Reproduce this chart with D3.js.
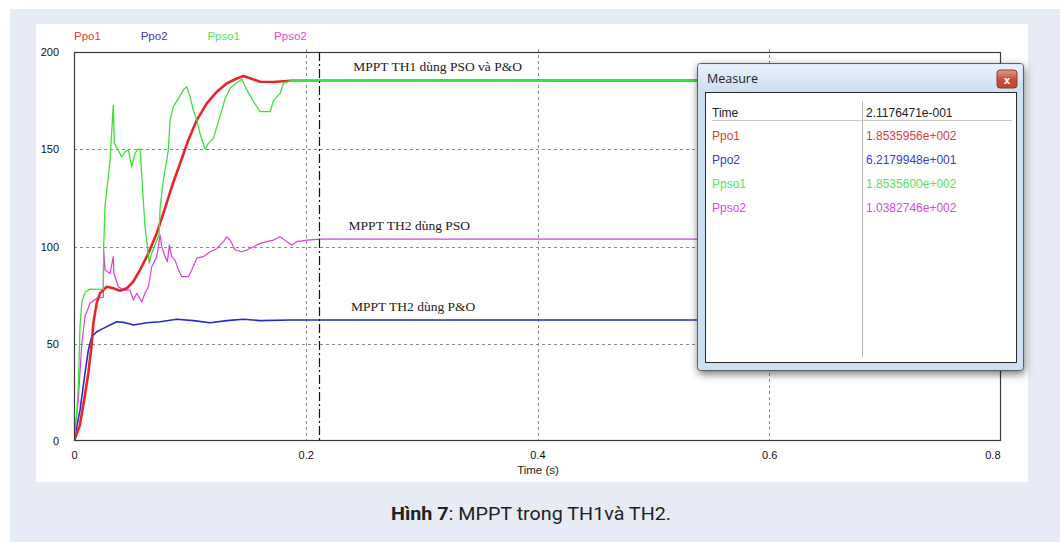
<!DOCTYPE html>
<html>
<head>
<meta charset="utf-8">
<script src="https://cdn.jsdelivr.net/npm/d3@7"></script>
<style>
  body { margin: 0; background: #fff; }
  svg { display: block; }
</style>
</head>
<body>
<div id="chart"></div>
<script>
// values: [time (s), power (W)]
var ppo1 = [[0, 0], [0.005, 8], [0.009, 22], [0.0124, 35], [0.0153, 50], [0.0167, 60.6], [0.0196, 71],
  [0.0225, 76], [0.0282, 79.3], [0.0339, 78.5], [0.0397, 77.3], [0.0455, 78.5], [0.0512, 82],
  [0.057, 88], [0.0642, 96.5], [0.0714, 106.8], [0.0771, 117], [0.0844, 130.7], [0.0916, 142.8],
  [0.0987, 154.8], [0.106, 165], [0.1146, 173.6], [0.1233, 179.6], [0.1319, 183.9], [0.1391, 186],
  [0.1462, 187.7], [0.152, 186.5], [0.1607, 184.7], [0.1721, 184.6], [0.1866, 185.2], [0.8, 185.4]]

var ppo2 = [[0, 0], [0.0052, 16], [0.0095, 34.8], [0.0124, 46.8], [0.0153, 53.6], [0.0196, 56.2],
  [0.0253, 57.9], [0.0311, 59.6], [0.0369, 61.3], [0.0426, 61], [0.0484, 60.2], [0.0512, 59.6],
  [0.0628, 60.8], [0.0743, 61.3], [0.0887, 62.6], [0.103, 61.9], [0.1175, 60.8], [0.1319, 61.9],
  [0.1462, 62.6], [0.1607, 61.9], [0.1866, 62.2], [0.8, 62.2]]

var ppso1 = [[0, 0], [0.0023, 14], [0.0037, 27.8], [0.0052, 58.8], [0.0067, 71], [0.0095, 76.5],
  [0.0138, 78.1], [0.0253, 78], [0.0256, 100], [0.0268, 121], [0.0311, 144], [0.0339, 172.7],
  [0.0348, 153], [0.0369, 151], [0.0412, 146], [0.044, 148.7], [0.0469, 149.6], [0.0498, 141],
  [0.0527, 148], [0.0555, 150], [0.057, 150], [0.0585, 136], [0.0613, 110], [0.0633, 100],
  [0.065, 91.4], [0.0671, 96.6], [0.0714, 103], [0.0734, 106], [0.0743, 120], [0.0771, 134],
  [0.0801, 144.5], [0.0814, 149.6], [0.0829, 165], [0.0858, 171.9], [0.0901, 176], [0.0944, 180.5],
  [0.0973, 182.2], [0.1002, 177], [0.103, 170], [0.106, 165], [0.1088, 158], [0.1131, 150],
  [0.116, 153], [0.1203, 155.6], [0.1233, 161.6], [0.1276, 170], [0.1304, 176], [0.1347, 181.3],
  [0.1405, 184.2], [0.1448, 186], [0.1492, 180.5], [0.1549, 174.5], [0.1607, 169.3], [0.1693, 169.3],
  [0.1721, 175], [0.1779, 178.7], [0.1808, 184], [0.1866, 185.2], [0.8, 185.4]]

var ppso2 = [[0, 0], [0.0037, 21], [0.0067, 50], [0.0095, 64], [0.0138, 70.8], [0.0196, 73.4],
  [0.0253, 73.9], [0.0256, 98], [0.0268, 88], [0.0311, 86], [0.0339, 94.8], [0.0345, 86],
  [0.0383, 79.3], [0.0426, 77.6], [0.0484, 77.6], [0.0512, 72.5], [0.0542, 76], [0.0585, 71.6],
  [0.0613, 76], [0.0642, 79.3], [0.0671, 89.6], [0.0714, 94.8], [0.0743, 105.9], [0.0757, 99.9],
  [0.0786, 94.8], [0.0806, 92.2], [0.0823, 100.8], [0.0844, 94.8], [0.0872, 93], [0.0901, 88],
  [0.093, 84.5], [0.0987, 84.5], [0.1017, 88], [0.106, 94], [0.1117, 94.8], [0.1175, 97.3],
  [0.1233, 99], [0.129, 102.5], [0.1319, 105], [0.1347, 103.3], [0.1391, 98.2], [0.1448, 97.3],
  [0.1492, 98.2], [0.1549, 99.9], [0.1607, 101.6], [0.1664, 102.5], [0.1721, 103.3], [0.1779, 105],
  [0.1836, 102.5], [0.188, 100.8], [0.1923, 102.5], [0.201, 103.3], [0.2125, 103.8], [0.8, 103.8]]

var seriesNames = ["Ppo1", "Ppo2", "Ppso1", "Ppso2"]
var xTicks = [0, 0.2, 0.4, 0.6, 0.8]
var yTicks = [0, 50, 100, 150, 200]
var cursorTime = 0.21176471
var measureValues = ["1.8535956e+002", "6.2179948e+001", "1.8535600e+002", "1.0382746e+002"]
var notes = [
  { text: "MPPT TH1 dùng PSO và P&O", t: 0.241, p: 190.2 },
  { text: "MPPT TH2 dùng PSO", t: 0.237, p: 108.5 },
  { text: "MPPT TH2 dùng P&O", t: 0.239, p: 66.8 }
]

var colors = { Ppo1: "#e8262a", Ppo2: "#2a2ac8", Ppso1: "#3ee03a", Ppso2: "#dc3cdc" }
var textColors = { Ppo1: "#e03a3a", Ppo2: "#3a3acb", Ppso1: "#5ade5a", Ppso2: "#d84ad8" }

var W = 1060, H = 542

var svg = d3.select("#chart").append("svg")
  .attr("width", W)
  .attr("height", H)

var defs = svg.append("defs")
defs.append("clipPath").attr("id", "plotclip")
  .append("rect").attr("x", 74).attr("y", 52).attr("width", 927).attr("height", 389)

var shadow = defs.append("filter").attr("id", "winshadow")
  .attr("x", "-10%").attr("y", "-10%").attr("width", "125%").attr("height", "125%")
shadow.append("feDropShadow").attr("dx", 1).attr("dy", 3).attr("stdDeviation", 4)
  .attr("flood-color", "#000").attr("flood-opacity", 0.55)

var titleGrad = defs.append("linearGradient").attr("id", "titlegrad")
  .attr("x1", 0).attr("y1", 0).attr("x2", 0).attr("y2", 1)
titleGrad.append("stop").attr("offset", "0%").attr("stop-color", "#e9f1fb")
titleGrad.append("stop").attr("offset", "100%").attr("stop-color", "#cddff3")

var btnGrad = defs.append("linearGradient").attr("id", "btngrad")
  .attr("x1", 0).attr("y1", 0).attr("x2", 0).attr("y2", 1)
btnGrad.append("stop").attr("offset", "0%").attr("stop-color", "#e89a8c")
btnGrad.append("stop").attr("offset", "50%").attr("stop-color", "#c9503c")
btnGrad.append("stop").attr("offset", "100%").attr("stop-color", "#c2432c")

/* ------- PAGE BACKGROUND ------- */
svg.append("rect").attr("x", 10).attr("y", 9).attr("width", W - 10).attr("height", H - 9)
  .attr("fill", "#e7ebf5")
svg.append("rect").attr("x", 36).attr("y", 24).attr("width", 992).attr("height", 458)
  .attr("fill", "#fff")

/* ------- SCALES ------- */
var x = d3.scaleLinear().domain([0, 0.8]).range([74, 1001])
var y = d3.scaleLinear().domain([0, 200]).range([441, 52])

/* ------- GRID ------- */
var grid = svg.append("g").attr("class", "grid")
grid.selectAll("line.vg")
  .data(xTicks.filter(function(d) { return d > 0 && d < 0.8 }))
  .enter().append("line")
  .attr("class", "vg")
  .attr("x1", function(d) { return Math.round(x(d)) + 0.5 })
  .attr("x2", function(d) { return Math.round(x(d)) + 0.5 })
  .attr("y1", 49).attr("y2", 441)
  .attr("stroke", "#8a8a8a").attr("stroke-dasharray", "3,3")
grid.selectAll("line.hg")
  .data(yTicks.filter(function(d) { return d > 0 && d < 200 }))
  .enter().append("line")
  .attr("class", "hg")
  .attr("y1", function(d) { return Math.round(y(d)) + 0.5 })
  .attr("y2", function(d) { return Math.round(y(d)) + 0.5 })
  .attr("x1", 74).attr("x2", 1001)
  .attr("stroke", "#8a8a8a").attr("stroke-dasharray", "3,3")

/* ------- AXES ------- */
var yAxis = svg.append("g")
  .attr("transform", "translate(74,0)")
  .call(d3.axisLeft(y).tickValues(yTicks).tickSize(0).tickPadding(15).tickFormat(d3.format("d")))
var xAxis = svg.append("g")
  .attr("transform", "translate(0,441)")
  .call(d3.axisBottom(x).tickValues(xTicks).tickSize(0).tickPadding(10)
    .tickFormat(function(d) { return d === 0 ? "0" : d3.format(".1f")(d) }))
svg.selectAll(".domain").remove()
svg.selectAll(".tick text")
  .attr("font-family", "Liberation Sans, Arial, sans-serif")
  .attr("font-size", 11)
  .attr("fill", "#111")
xAxis.selectAll(".tick text").filter(function(d) { return d === 0.8 })
  .attr("text-anchor", "end").attr("dx", "-1")

svg.append("text")
  .attr("x", 538).attr("y", 474)
  .attr("text-anchor", "middle")
  .attr("font-family", "Liberation Sans Narrow, Liberation Sans, Arial, sans-serif")
  .attr("font-size", 11.5)
  .attr("fill", "#222")
  .text("Time (s)")

/* ------- LEGEND ------- */
svg.append("g").selectAll("text")
  .data(seriesNames)
  .enter().append("text")
  .attr("x", function(d, i) { return 74 + i * 66.7 })
  .attr("y", 40)
  .attr("font-family", "Liberation Sans, Arial, sans-serif")
  .attr("font-size", 11.5)
  .attr("fill", function(d) { return textColors[d] })
  .text(function(d) { return d })

/* ------- TRACES ------- */
var line = d3.line()
  .x(function(d) { return x(d[0]) })
  .y(function(d) { return y(d[1]) })

var traces = [
  { name: "Ppo2", values: ppo2, width: 1.6 },
  { name: "Ppso2", values: ppso2, width: 1.2 },
  { name: "Ppo1", values: ppo1, width: 2.6 },
  { name: "Ppso1", values: ppso1, width: 1.3 }
]
svg.append("g").attr("clip-path", "url(#plotclip)")
  .selectAll("path")
  .data(traces)
  .enter().append("path")
  .attr("d", function(d) { return line(d.values) })
  .attr("fill", "none")
  .attr("stroke", function(d) { return colors[d.name] })
  .attr("stroke-width", function(d) { return d.width })
  .attr("stroke-linejoin", "round")

// steady Ppso1 line sits on top of Ppo1, giving the thick green band
svg.append("path")
  .attr("clip-path", "url(#plotclip)")
  .attr("d", line(ppso1.filter(function(d) { return d[0] >= 0.1866 })))
  .attr("fill", "none")
  .attr("stroke", colors.Ppso1)
  .attr("stroke-width", 2.6)

/* ------- PLOT FRAME + CURSOR ------- */
svg.append("rect")
  .attr("x", 74.5).attr("y", 52.5).attr("width", 926).attr("height", 388)
  .attr("fill", "none").attr("stroke", "#3a3a3a").attr("stroke-width", 1.2)

svg.append("line")
  .attr("x1", Math.round(x(cursorTime)) + 0.5).attr("x2", Math.round(x(cursorTime)) + 0.5)
  .attr("y1", 52).attr("y2", 441)
  .attr("stroke", "#111").attr("stroke-width", 1.2)
  .attr("stroke-dasharray", "9,3,2,3")

/* ------- NOTES ------- */
svg.append("g").selectAll("text")
  .data(notes)
  .enter().append("text")
  .attr("x", function(d) { return x(d.t) })
  .attr("y", function(d) { return y(d.p) })
  .attr("font-family", "Liberation Serif, Times New Roman, serif")
  .attr("font-size", 13.5)
  .attr("fill", "#222")
  .text(function(d) { return d.text })

/* ------- MEASURE WINDOW ------- */
var win = svg.append("g").attr("transform", "translate(697,63)")
win.append("rect")
  .attr("x", 0.5).attr("y", 0.5).attr("width", 326).attr("height", 307).attr("rx", 3)
  .attr("fill", "#cfe0f2").attr("stroke", "#55606e")
  .attr("filter", "url(#winshadow)")
win.append("rect")
  .attr("x", 1.5).attr("y", 1.5).attr("width", 324).attr("height", 26)
  .attr("fill", "url(#titlegrad)")
win.append("text")
  .attr("x", 10).attr("y", 20)
  .attr("font-family", "Open Sans, DejaVu Sans, sans-serif")
  .attr("font-size", 12.5)
  .attr("fill", "#222")
  .text("Measure")
win.append("rect")
  .attr("x", 300).attr("y", 7).attr("width", 20).attr("height", 18).attr("rx", 3)
  .attr("fill", "url(#btngrad)").attr("stroke", "#8c3a2c")
win.append("text")
  .attr("x", 310).attr("y", 20.5)
  .attr("text-anchor", "middle")
  .attr("font-family", "DejaVu Sans, sans-serif")
  .attr("font-weight", "bold")
  .attr("font-size", 10)
  .attr("fill", "#fff")
  .text("x")
win.append("rect")
  .attr("x", 8.5).attr("y", 29.5).attr("width", 311).attr("height", 270)
  .attr("fill", "#fff").attr("stroke", "#2a2a2a")
win.append("line")
  .attr("x1", 165.5).attr("x2", 165.5).attr("y1", 38).attr("y2", 294)
  .attr("stroke", "#b4b4b4")
win.append("line")
  .attr("x1", 15).attr("x2", 315).attr("y1", 57.5).attr("y2", 57.5)
  .attr("stroke", "#c8c8c8")

var rowNames = ["Time"].concat(seriesNames)
var rowValues = [d3.format(".7e")(cursorTime).replace("e-1", "e-001")].concat(measureValues)
var rows = win.selectAll("g.row")
  .data(rowNames)
  .enter().append("g")
  .attr("class", "row")
  .attr("transform", function(d, i) { return "translate(0," + (53.5 + (i === 0 ? 0 : 23 + (i - 1) * 24)) + ")" })
rows.append("text")
  .attr("x", 15)
  .text(function(d) { return d })
rows.append("text")
  .attr("x", 169)
  .text(function(d, i) { return rowValues[i] })
rows.selectAll("text")
  .attr("font-family", "Liberation Sans, Arial, sans-serif")
  .attr("font-size", 12)
  .attr("fill", function() {
    var n = d3.select(this.parentNode).datum()
    return n === "Time" ? "#222" : textColors[n]
  })

/* ------- CAPTION ------- */
var cap = svg.append("text")
  .attr("x", 531).attr("y", 520)
  .attr("text-anchor", "middle")
  .attr("font-family", "Roboto, Noto Sans, sans-serif")
  .attr("font-size", 18)
  .attr("textLength", 280)
  .attr("lengthAdjust", "spacingAndGlyphs")
  .attr("fill", "#222")
cap.append("tspan").attr("font-weight", "bold").text("Hình 7")
cap.append("tspan").text(": MPPT trong TH1và TH2.")
</script>
</body>
</html>
